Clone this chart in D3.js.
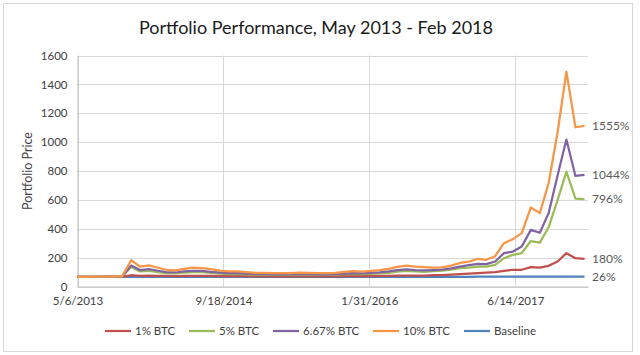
<!DOCTYPE html>
<html><head><meta charset="utf-8">
<script src="https://cdn.jsdelivr.net/npm/d3@7"></script>
<style>
html,body{margin:0;padding:0;background:#fff;}
svg{display:block;font-family:Lato,"Open Sans",sans-serif;}
</style></head>
<body><svg id="c" width="640" height="355"></svg>
<script>
// ---- data ----
const startDate = "2013-05-06";
const endDate = "2018-02-18";
const xTickLabels = ["5/6/2013", "9/18/2014", "1/31/2016", "6/14/2017"];
const yTicks = [0, 200, 400, 600, 800, 1000, 1200, 1400, 1600];
const seriesNames = ["1% BTC", "5% BTC", "6.67% BTC", "10% BTC", "Baseline"];
const endLabels = ["180%", "796%", "1044%", "1555%", "26%"];
const btc1 = [67,67,67,67,67,68,78,74,75,74,73,72,73,74,74,73,72,71,71,71,70,70,70,70,70,70,70,70,70,70,71,72,71,72,73,74,75,76,76,76,78,79,82,86,89,93,96,100,109,116,116,134,131,143,173,231,196,192];
const btc5 = [67,67,67,67,68,70,135,104,109,100,93,91,96,100,99,95,90,86,86,84,81,82,81,80,81,82,82,80,80,82,85,87,86,88,91,95,103,108,104,102,106,110,117,127,131,138,138,150,196,219,231,315,304,410,600,796,608,606];
const btc667 = [67,67,67,68,68,70,145,114,120,109,100,97,104,109,108,102,96,92,92,89,85,86,84,84,84,86,86,84,84,86,90,93,91,94,98,104,113,119,114,112,114,117,126,138,148,157,155,173,231,242,277,392,372,508,770,1018,766,773];
const btc10 = [67,67,68,68,69,72,182,137,146,130,116,112,122,130,128,120,110,104,104,100,94,95,93,92,93,96,95,92,92,95,102,106,103,108,114,122,136,145,138,134,130,132,145,163,172,192,185,210,300,328,370,547,508,715,1070,1488,1103,1112];
const baseline = [66,66,66,66,66,66,66,66,66,66,66,67,67,67,67,67,67,67,67,67,67,67,67,67,67,67,67,67,67,67,67,67,67,67,67,67,67,67,67,67,67,67,67,67,67,68,68,68,68,68,68,68,68,68,68,68,68,68];
const colors = ["#C0504D", "#9BBB59", "#8064A2", "#F79646", "#4F81BD"];

const allSeries = [btc1, btc5, btc667, btc10, baseline];
const parse = d3.timeParse("%Y-%m-%d");
const parseTick = d3.timeParse("%m/%d/%Y");
const d0 = parse(startDate);
const dates = btc10.map((_, i) => d3.timeMonth.offset(d0, i));

const svg = d3.select("#c");
// outer border
svg.append("rect").attr("x", 3.5).attr("y", 3.5).attr("width", 629).attr("height", 348)
  .attr("fill", "none").attr("stroke", "#d9d9d9").attr("stroke-width", 1);

const x = d3.scaleTime().domain([parse(startDate), parse(endDate)]).range([77.5, 588]);
const y = d3.scaleLinear().domain([0, 1600]).range([286.5, 55.5]);

// title
svg.append("text").attr("x", 316).attr("y", 34).attr("text-anchor", "middle")
  .attr("font-size", 18).attr("fill", "#1a1a1a").text("Portfolio Performance, May 2013 - Feb 2018");

// horizontal grid
svg.append("g").selectAll("line").data(yTicks).join("line")
  .attr("x1", x.range()[0]).attr("x2", x.range()[1])
  .attr("y1", d => Math.round(y(d)) + 0.5).attr("y2", d => Math.round(y(d)) + 0.5)
  .attr("stroke", "#d9d9d9").attr("stroke-width", 1);

// vertical grid
const tickDates = xTickLabels.map(parseTick);
svg.append("g").selectAll("line").data(tickDates).join("line")
  .attr("x1", d => Math.round(x(d)) + 0.5).attr("x2", d => Math.round(x(d)) + 0.5)
  .attr("y1", y(1600)).attr("y2", y(0))
  .attr("stroke", "#d9d9d9").attr("stroke-width", 1);

// y axis
const yAxis = d3.axisLeft(y).tickValues(yTicks).tickSize(0).tickPadding(10).tickFormat(d3.format("d"));
const gy = svg.append("g").attr("transform", `translate(${x.range()[0]},0)`).call(yAxis);
gy.select(".domain").attr("stroke", "#bfbfbf");
gy.selectAll("text").attr("font-size", 11.5).attr("fill", "#404040").attr("font-family", "Lato, sans-serif");

// x axis
const xAxis = d3.axisBottom(x).tickValues(tickDates).tickSize(0).tickPadding(10)
  .tickFormat((d, i) => xTickLabels[i]);
const gx = svg.append("g").attr("transform", `translate(0,${y(0)})`).call(xAxis);
gx.select(".domain").attr("stroke", "#bfbfbf");
gx.selectAll("text").attr("font-size", 11.5).attr("fill", "#404040").attr("font-family", "Lato, sans-serif");

// y title
svg.append("text").attr("transform", "translate(32,171) rotate(-90)").attr("text-anchor", "middle")
  .attr("font-size", 12.5).attr("fill", "#404040").text("Portfolio Price");

// lines
const line = d3.line().x((d, i) => x(dates[i])).y(d => y(d));
const order = [4, 0, 1, 2, 3];
order.forEach(k => {
  svg.append("path").datum(allSeries[k]).attr("d", line)
    .attr("fill", "none").attr("stroke", colors[k]).attr("stroke-width", 2.25)
    .attr("stroke-linejoin", "round");
});

// end labels
allSeries.forEach((s, k) => {
  const v = s[s.length - 1];
  svg.append("text").attr("x", 592).attr("y", y(v)).attr("dy", "0.35em")
    .attr("font-size", 12).attr("fill", "#595959").text(endLabels[k]);
});

// legend
const legX = [105, 189, 273, 373, 464];
const legY = 331;
seriesNames.forEach((n, k) => {
  svg.append("line").attr("x1", legX[k]).attr("x2", legX[k] + 26).attr("y1", legY).attr("y2", legY)
    .attr("stroke", colors[k]).attr("stroke-width", 2.25);
  svg.append("text").attr("x", legX[k] + 30).attr("y", legY).attr("dy", "0.35em")
    .attr("font-size", 11.5).attr("fill", "#404040").text(n);
});
</script></body></html>
